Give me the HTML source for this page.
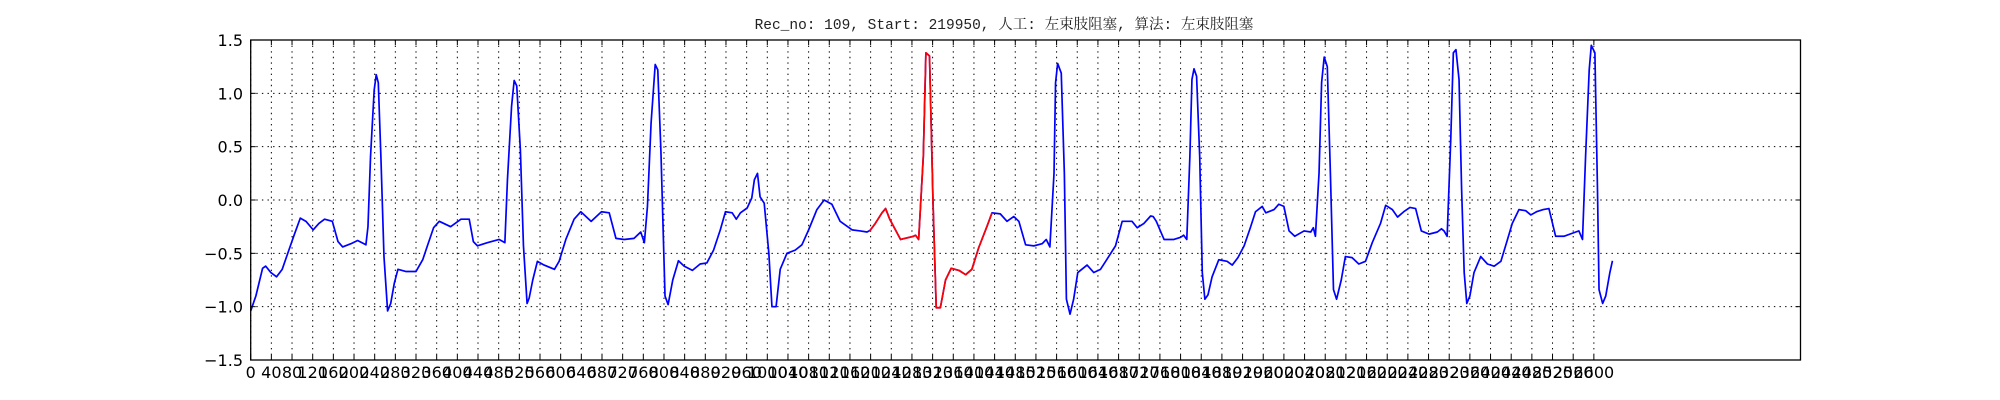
<!DOCTYPE html>
<html><head><meta charset="utf-8"><style>
html,body{margin:0;padding:0;background:#fff;width:2000px;height:400px;overflow:hidden}
svg{display:block}
text{font-family:"DejaVu Sans","Liberation Sans",sans-serif}
</style></head><body>
<svg id="chart" width="2000" height="400" viewBox="0 0 2000 400" xmlns="http://www.w3.org/2000/svg">
<text x="1004" y="29" text-anchor="middle" fill="#222" style="font-family:'Liberation Mono','Noto Serif CJK SC',monospace;font-size:14.5px">Rec_no: 109, Start: 219950, 人工: 左束肢阻塞, 算法: 左束肢阻塞</text>
<g id="grid"></g>
<g id="series"></g>
<g id="axes"></g>
</svg>
<script>
const samples = [0,10,23,29,39,50,61,71,84,96,107,121,132,143,158,169,178,194,207,223,227,232,239,243,247,252,258,265,271,278,285,300,320,333,342,354,365,387,407,423,431,439,458,481,492,497,505,510,515,522,528,535,539,546,555,568,588,597,610,626,639,659,679,694,707,723,742,755,762,768,775,783,788,794,802,808,817,828,839,855,870,883,896,909,919,932,940,948,961,970,975,981,986,994,1003,1009,1017,1025,1038,1054,1067,1080,1096,1110,1125,1141,1164,1180,1193,1199,1209,1222,1229,1237,1258,1283,1287,1293,1302,1307,1314,1321,1327,1335,1345,1356,1371,1384,1396,1409,1425,1435,1451,1464,1477,1487,1500,1516,1532,1540,1547,1555,1558,1562,1569,1575,1579,1586,1593,1601,1619,1632,1645,1655,1674,1687,1706,1716,1729,1742,1747,1753,1768,1787,1800,1806,1812,1818,1822,1826,1831,1837,1842,1847,1853,1861,1874,1890,1900,1911,1923,1935,1945,1958,1965,1981,1990,2000,2010,2021,2039,2052,2057,2061,2068,2073,2078,2084,2090,2096,2102,2111,2119,2132,2145,2158,2171,2187,2197,2210,2220,2232,2244,2255,2266,2281,2297,2305,2310,2316,2323,2328,2333,2339,2344,2349,2354,2360,2368,2381,2394,2407,2420,2431,2442,2455,2468,2478,2489,2502,2513,2526,2542,2565,2571,2578,2584,2591,2595,2602,2607,2610,2617,2623,2631,2636];
const values = [-1.04,-0.90,-0.64,-0.62,-0.68,-0.72,-0.65,-0.51,-0.33,-0.17,-0.20,-0.28,-0.22,-0.18,-0.20,-0.39,-0.44,-0.41,-0.38,-0.42,-0.25,0.41,1.03,1.175,1.10,0.41,-0.53,-1.04,-0.97,-0.78,-0.65,-0.67,-0.67,-0.56,-0.43,-0.26,-0.20,-0.25,-0.18,-0.18,-0.39,-0.43,-0.40,-0.37,-0.40,0.19,0.88,1.12,1.07,0.47,-0.43,-0.97,-0.92,-0.75,-0.575,-0.61,-0.65,-0.575,-0.37,-0.18,-0.11,-0.20,-0.11,-0.12,-0.36,-0.37,-0.36,-0.30,-0.40,-0.06,0.72,1.27,1.22,0.47,-0.90,-0.98,-0.75,-0.57,-0.62,-0.66,-0.60,-0.59,-0.47,-0.28,-0.11,-0.12,-0.18,-0.12,-0.075,0.02,0.19,0.25,0.03,-0.03,-0.50,-1.00,-1.00,-0.65,-0.50,-0.47,-0.42,-0.28,-0.09,0.00,-0.04,-0.20,-0.28,-0.29,-0.30,-0.285,-0.22,-0.12,-0.08,-0.18,-0.37,-0.34,-0.33,-0.37,0.41,1.38,1.35,-0.06,-1.01,-1.01,-0.75,-0.64,-0.66,-0.70,-0.65,-0.45,-0.25,-0.12,-0.13,-0.20,-0.155,-0.20,-0.42,-0.43,-0.41,-0.37,-0.44,0.25,1.10,1.28,1.19,0.25,-0.93,-1.07,-0.93,-0.68,-0.61,-0.68,-0.65,-0.575,-0.43,-0.20,-0.20,-0.26,-0.22,-0.15,-0.155,-0.20,-0.37,-0.37,-0.35,-0.33,-0.37,0.41,1.13,1.23,1.16,0.41,-0.68,-0.93,-0.89,-0.72,-0.56,-0.575,-0.61,-0.54,-0.43,-0.26,-0.11,-0.06,-0.12,-0.09,-0.04,-0.06,-0.29,-0.34,-0.29,-0.30,-0.26,-0.34,0.25,1.10,1.34,1.25,0.25,-0.84,-0.93,-0.75,-0.53,-0.54,-0.60,-0.575,-0.40,-0.22,-0.05,-0.09,-0.16,-0.11,-0.07,-0.08,-0.29,-0.32,-0.30,-0.27,-0.29,-0.34,0.57,1.38,1.41,1.13,0.10,-0.68,-0.97,-0.90,-0.68,-0.53,-0.60,-0.62,-0.575,-0.40,-0.22,-0.09,-0.10,-0.14,-0.11,-0.09,-0.08,-0.34,-0.34,-0.30,-0.29,-0.37,0.41,1.22,1.45,1.38,0.10,-0.84,-0.97,-0.90,-0.68,-0.57,-0.57];
const highlightRange = [1198, 1435];
const yTicks = [1.5,1.0,0.5,0.0,-0.5,-1.0,-1.5];
const xTickStep = 40, xTickMax = 2600;
const xDomain = [0, 3000], yDomain = [-1.5, 1.5];

const L=250.7, R=1800.5, T=40, B=360;
const sx = v => L + (v - xDomain[0]) / (xDomain[1]-xDomain[0]) * (R-L);
const sy = v => B - (v - yDomain[0]) / (yDomain[1]-yDomain[0]) * (B-T);
const NS="http://www.w3.org/2000/svg";
function mk(tag, attrs, parent){const e=document.createElementNS(NS,tag);for(const k in attrs)e.setAttribute(k,attrs[k]);parent.appendChild(e);return e;}
const grid=document.getElementById('grid'), axes=document.getElementById('axes'), ser=document.getElementById('series');

for(let t=0;t<=xTickMax;t+=xTickStep){
  const x=sx(t);
  const g=mk('line',{x1:x,x2:x,y1:T,y2:B,stroke:'#000','stroke-width':1,'stroke-dasharray':'1.4,4.2'},grid);
  
  
  const tb=mk('line',{x1:x,x2:x,y1:B,y2:B-5,stroke:'#000','stroke-width':1},axes);
  
  
  const tt=mk('line',{x1:x,x2:x,y1:T,y2:T+5,stroke:'#000','stroke-width':1},axes);
  
  
  const lb=mk('text',{x:x,y:378,'text-anchor':'middle','font-size':16,fill:'#000'},axes);
  lb.textContent=String(t);
  
  
}
yTicks.forEach(v=>{
  const y=sy(v);
  if(v<1.5&&v>-1.5){
    const g=mk('line',{x1:L,x2:R,y1:y,y2:y,stroke:'#000','stroke-width':1,'stroke-dasharray':'1.4,4.2'},grid);
    
    
  }
  const t1=mk('line',{x1:L,x2:L+5,y1:y,y2:y,stroke:'#000','stroke-width':1},axes);
  
  
  const t2=mk('line',{x1:R-5,x2:R,y1:y,y2:y,stroke:'#000','stroke-width':1},axes);
  
  
  const lb=mk('text',{x:243,y:y+6,'text-anchor':'end','font-size':16,fill:'#000'},axes);
  lb.textContent=v.toFixed(1).replace('-','\u2212');
  
  
});
const frame=mk('rect',{x:L,y:T,width:R-L,height:B-T,fill:'none',stroke:'#000','stroke-width':1.3},axes);



function interp(s){for(let i=1;i<samples.length;i++){if(samples[i]>=s){const a=samples[i-1],b=samples[i];const f=(s-a)/(b-a);return values[i-1]+f*(values[i]-values[i-1]);}}return values[values.length-1];}
const allPts=samples.map((s,i)=>sx(s).toFixed(2)+','+sy(values[i]).toFixed(2)).join(' ');
const blue=mk('polyline',{points:allPts,fill:'none',stroke:'#0000ff','stroke-width':1.7,'stroke-linejoin':'round'},ser);


const rp=[[highlightRange[0],interp(highlightRange[0])]];
samples.forEach((s,i)=>{if(s>highlightRange[0]&&s<highlightRange[1])rp.push([s,values[i]]);});
rp.push([highlightRange[1],interp(highlightRange[1])]);
const red=mk('polyline',{points:rp.map(p=>sx(p[0]).toFixed(2)+','+sy(p[1]).toFixed(2)).join(' '),fill:'none',stroke:'#ff0000','stroke-width':1.7,'stroke-linejoin':'round'},ser);


</script>
</body></html>
